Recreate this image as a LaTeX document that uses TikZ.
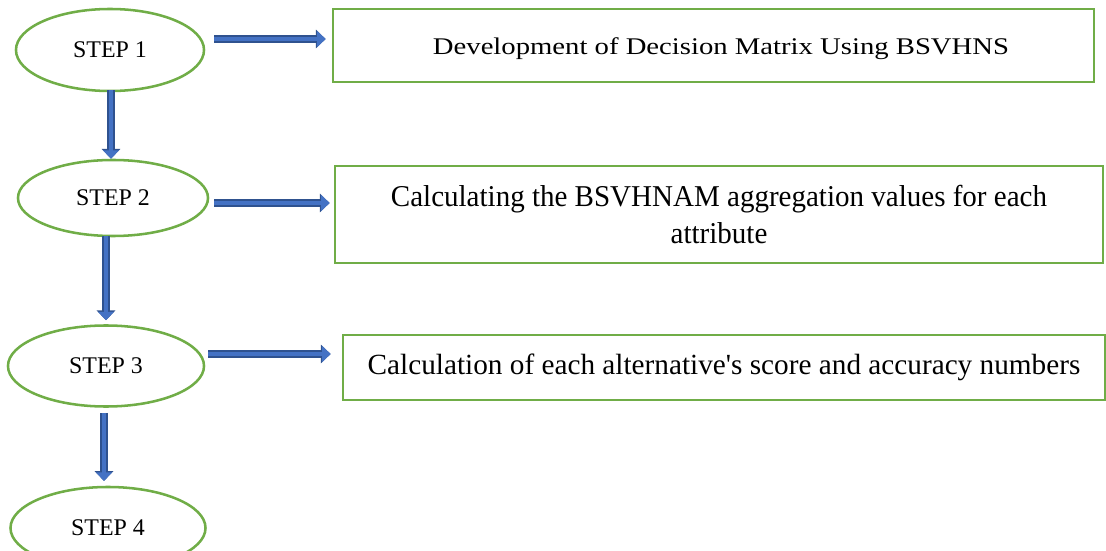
\documentclass[tikz,border=0pt]{standalone}
\usepackage{fontspec}
\setmainfont{Liberation Serif}
\newfontfamily\wideserif{Liberation Serif}[FakeStretch=1.2]
\newfontfamily\narrowserif{Liberation Serif}[FakeStretch=0.96]
\usepackage{xcolor}
\definecolor{Office-green}{RGB}{112, 173, 71}
\definecolor{Office-blue}{RGB}{68, 114, 196}
\definecolor{Office-blue-dark}{RGB}{47, 82, 143}
\usetikzlibrary{shapes.geometric,arrows.meta,positioning,calc}

\begin{document}
\begin{tikzpicture} [ % 先定义每类节点的样式
        x=0.025cm, y=-0.025cm, font=\fontsize{17}{21}\selectfont,
        step-oval/.style = {ellipse, draw=Office-green, line width=1.8pt, inner sep=0pt, minimum width=4.75cm, minimum height=2.05cm},
        task-box/.style = {rectangle, draw=Office-green, line width=1.8pt, inner sep=0pt, align=center},
        flow-arrow/.style = {draw=Office-blue, line width=3.4pt, -{Triangle[length=6pt,width=11pt]},
            preaction={draw=Office-blue-dark, line width=5pt, -{Triangle[length=7pt,width=13pt]}}}
    ]

    \useasboundingbox (0,0) rectangle (1106,551);

    % 椭圆
    \node [step-oval, minimum width=4.7cm] (s1) at (110,50) {STEP 1};
    \node [step-oval, minimum height=1.9cm] (s2) at (113,198) {STEP 2};
    \node [step-oval, minimum width=4.9cm, minimum height=2.025cm] (s3) at (106,366) {STEP 3};
    \node [step-oval, minimum width=4.875cm] (s4) at (108,528) {STEP 4};

    % 方框
    \node [task-box, minimum width=19.025cm, minimum height=1.825cm, font=\wideserif\fontsize{17}{21}\selectfont] (b1) at (713.5,45.5)
        {\hspace*{0.375cm}\raisebox{-0.08cm}[\height][\depth]{Development of Decision Matrix Using BSVHNS}};
    \node [task-box, minimum width=19.2cm, minimum height=2.425cm, font=\narrowserif\fontsize{21.5}{26.5}\selectfont] (b2) at (719,214.5)
        {Calculating the BSVHNAM aggregation values for each\\attribute};
    \node [task-box, minimum width=19.05cm, minimum height=1.625cm, font=\fontsize{20.8}{24}\selectfont] (b3) at (724,367.5)
        {Calculation of each alternative\textquotesingle s score and accuracy numbers};

    % 箭头起点
    \path (s1.south) ++(1,-2) coordinate (v1);
    \path (s2.south) ++(-7,-1) coordinate (v2);
    \path (s3.south) ++(-2,5) coordinate (v3);
    \path (s1.east) ++(9,-11) coordinate (h1);
    \path (s2.east) ++(5,5) coordinate (h2);
    \path (s3.east) ++(3,-12) coordinate (h3);

    % 竖直箭头
    \draw [flow-arrow] (v1) -- (v1 |- s2.north);
    \draw [flow-arrow, shorten >=0.1cm] (v2) -- (v2 |- s3.north);
    \draw [flow-arrow, shorten >=0.12cm] (v3) -- (v3 |- s4.north);

    % 水平箭头
    \draw [flow-arrow, shorten >=0.15cm] (h1) -- (h1 -| b1.west);
    \draw [flow-arrow, shorten >=0.1cm] (h2) -- (h2 -| b2.west);
    \draw [flow-arrow, shorten >=0.275cm] (h3) -- (h3 -| b3.west);

\end{tikzpicture}
\end{document}
